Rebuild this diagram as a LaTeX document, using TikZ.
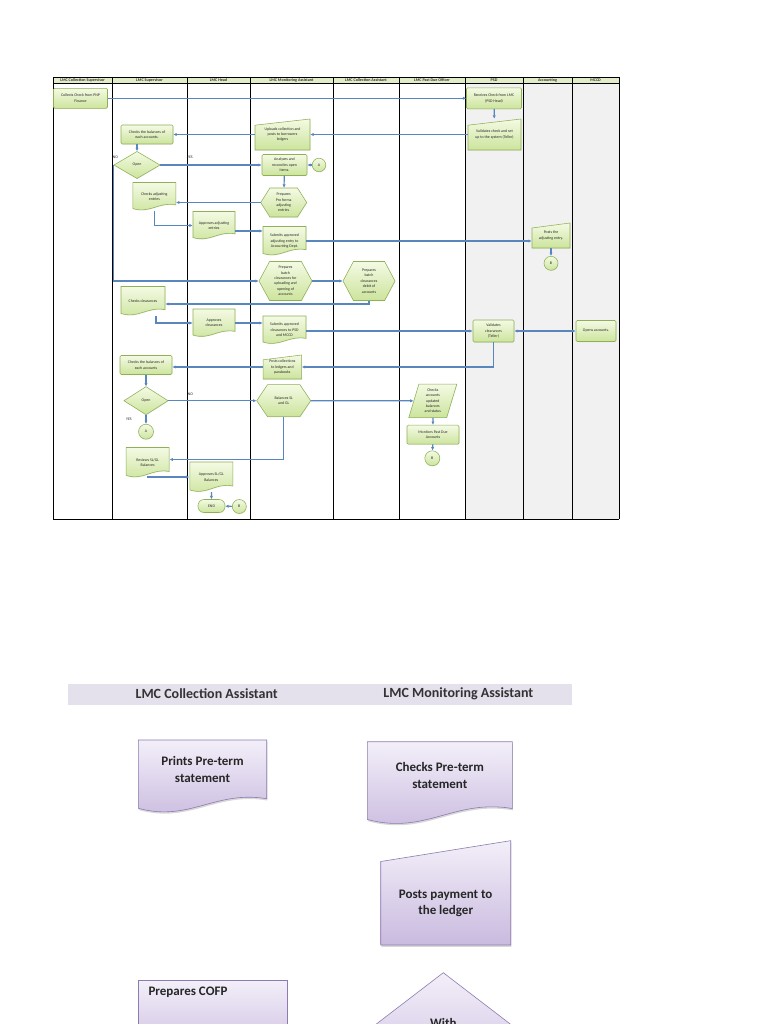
\documentclass[tikz,border=0pt]{standalone}
\usepackage{fontspec}
\setmainfont{Carlito}
\usetikzlibrary{arrows.meta,shadows}
\definecolor{gtop}{HTML}{F4FAE4}
\definecolor{gbot}{HTML}{CCE49C}
\definecolor{gbd}{HTML}{8FB055}
\definecolor{connc}{HTML}{5A86C0}
\definecolor{hdrfill}{HTML}{E3ECC8}
\definecolor{lanegray}{HTML}{F1F1F1}
\definecolor{ptop}{HTML}{F3EFF9}
\definecolor{pbot}{HTML}{C9BADF}
\definecolor{pbd}{HTML}{8E7CB0}
\definecolor{pband}{HTML}{E4E0EC}
\tikzset{
  conn/.style={draw=connc, line width=1.2pt, -{Latex[length=3.4pt,width=3.2pt]}},
  connb/.style={draw=connc, line width=1.2pt, {Latex[length=3.4pt,width=3.2pt]}-{Latex[length=3.4pt,width=3.2pt]}},
  gshape/.style={top color=gtop, bottom color=gbot, draw=gbd, line width=0.55pt,
    drop shadow={opacity=0.15, shadow xshift=0.4pt, shadow yshift=-0.6pt}},
  gtext/.style={font=\fontsize{3.9}{5.4}\selectfont, align=center, inner sep=0pt, text=black!85},
  lane/.style={draw=black, line width=0.7pt},
  hdr/.style={font=\fontsize{4.1}{5}\selectfont\bfseries, inner sep=0pt, text=black!80},
  lbl/.style={font=\fontsize{3.9}{5}\selectfont, inner sep=0pt, text=black!85},
  pshape/.style={top color=ptop, bottom color=pbot, draw=pbd, line width=0.6pt,
    drop shadow={opacity=0.3, shadow xshift=0.6pt, shadow yshift=-1.8pt}},
  ptext/.style={font=\fontsize{13}{16.5}\selectfont\bfseries, align=center, inner sep=0pt, text=black!85},
}
% name, cx, cy, w, h, shape style, text style, text
\newcommand{\ShRect}[8]{%
  \path[#6, rounded corners=1.2pt] ({#2-#4/2},{#3-#5/2}) rectangle ({#2+#4/2},{#3+#5/2});
  \node[#7, minimum width=#4, minimum height=#5] (#1) at (#2,#3) {#8};}
\newcommand{\ShDoc}[8]{%
  \path[#6] ({#2-#4/2},{#3-#5/2}) -- ({#2+#4/2},{#3-#5/2}) -- ({#2+#4/2},{#3+0.3*#5})
    .. controls ({#2+0.1*#4},{#3+0.18*#5}) and ({#2-0.1*#4},{#3+0.62*#5}) .. ({#2-#4/2},{#3+0.43*#5}) -- cycle;
  \node[#7, minimum width=#4, minimum height=#5] (#1) at (#2,#3) {#8};}
\newcommand{\ShManual}[8]{%
  \path[#6] ({#2-#4/2},{#3-#5/2+0.2*#5}) -- ({#2+#4/2},{#3-#5/2}) -- ({#2+#4/2},{#3+#5/2}) -- ({#2-#4/2},{#3+#5/2}) -- cycle;
  \node[#7, minimum width=#4, minimum height=#5] (#1) at (#2,#3) {#8};}
\newcommand{\ShHex}[8]{%
  \path[#6] ({#2-#4/2},#3) -- ({#2-0.3*#4},{#3-#5/2}) -- ({#2+0.3*#4},{#3-#5/2}) -- ({#2+#4/2},#3) -- ({#2+0.3*#4},{#3+#5/2}) -- ({#2-0.3*#4},{#3+#5/2}) -- cycle;
  \node[#7, minimum width=#4, minimum height=#5] (#1) at (#2,#3) {#8};}
\newcommand{\ShDiam}[8]{%
  \path[#6] ({#2-#4/2},#3) -- (#2,{#3-#5/2}) -- ({#2+#4/2},#3) -- (#2,{#3+#5/2}) -- cycle;
  \node[#7, minimum width=#4, minimum height=#5] (#1) at (#2,#3) {#8};}
\newcommand{\ShPara}[8]{%
  \path[#6] ({#2-#4/2+0.21*#4},{#3-#5/2}) -- ({#2+#4/2},{#3-#5/2}) -- ({#2+#4/2-0.21*#4},{#3+#5/2}) -- ({#2-#4/2},{#3+#5/2}) -- cycle;
  \node[#7, minimum width=#4, minimum height=#5] (#1) at (#2,#3) {#8};}
\newcommand{\ShTerm}[8]{%
  \path[#6, rounded corners=6pt] ({#2-#4/2},{#3-#5/2}) rectangle ({#2+#4/2},{#3+#5/2});
  \node[#7, minimum width=#4, minimum height=#5] (#1) at (#2,#3) {#8};}
\newcommand{\ShCirc}[5]{%
  \node[circle, gshape, #5, minimum size=#4] (#1) at (#2,#3) {};}

\begin{document}
\begin{tikzpicture}[x=1pt, y=-1pt]
\useasboundingbox (0,0) rectangle (768,1024);
\fill[white] (0,0) rectangle (768,1024);
\clip (0,0) rectangle (768,1024);

% ---------------- swimlanes ----------------
\fill[lanegray] (465,83) rectangle (619,519);
\fill[hdrfill] (53,77) rectangle (619,83);
\foreach \xx in {53,112,187,250,333,399,465,523,572,619}
  \draw[lane] (\xx,77) -- (\xx,519);
\draw[lane] (53,77) -- (619,77);
\draw[lane] (53,83) -- (619,83);
\draw[lane] (53,519) -- (619,519);
\node[hdr] (h1) at (82.5,80) {LMC Collection Supervisor};
\node[hdr] (h2) at (149.5,80) {LMC Supervisor};
\node[hdr] (h3) at (218.5,80) {LMC Head};
\node[hdr] (h4) at (291.5,80) {LMC Monitoring Assistant};
\node[hdr] (h5) at (366,80) {LMC Collection Assistant};
\node[hdr] (h6) at (432,80) {LMC Past Due Officer};
\node[hdr] (h7) at (494,80) {PSD};
\node[hdr] (h8) at (547.5,80) {Accounting};
\node[hdr] (h9) at (595.5,80) {MCCD};

% ---------------- shapes ----------------
\ShRect{n1}{80.5}{98.3}{54}{20}{gshape}{gtext}{Collects Check from PNP\\Finance}
\ShRect{n2}{494}{98.3}{55}{21}{gshape}{gtext}{Receives Check from LMC\\(PSD Head)}
\ShManual{n3}{494.5}{134.5}{53}{31}{gshape}{gtext}{Validates check and set\\up to the system (Teller)}
\ShManual{n4}{282.5}{134.5}{55}{31}{gshape}{gtext}{Uploads collection and\\posts to borrowers\\ledgers}
\ShRect{n5}{147}{134.5}{52}{19}{gshape}{gtext}{Checks the balances of\\each accounts.}
\ShDiam{n6}{137}{165}{46}{27}{gshape}{gtext}{Open}
\ShRect{n7}{284.5}{165}{45}{21}{gshape}{gtext}{Analyzes and\\reconciles open\\items.}
\ShCirc{n8}{319}{165}{13.5}{gtext}
\node[gtext] (n8t) at (n8) {A};
\ShHex{n9}{283.7}{202.5}{46}{29}{gshape}{gtext}{Prepares\\Pro forma\\adjusting\\entries}
\ShDoc{n10}{154.3}{196.5}{43}{28}{gshape}{gtext}{Checks adjusting\\entries}
\ShDoc{n11}{214}{225.5}{42}{28}{gshape}{gtext}{Approves adjusting\\entries}
\ShDoc{n12}{284.5}{241}{43}{29}{gshape}{gtext}{Submits approved\\adjusting entry to\\Accounting Dept.}
\ShManual{n13}{551}{235.5}{38}{25}{gshape}{gtext}{Posts the\\adjusting entry.}
\ShCirc{n14}{551}{263.3}{14}{gtext}
\node[gtext] (n14t) at (n14) {B};
\ShHex{n15}{285.5}{281}{53}{39}{gshape}{gtext}{Prepares\\batch\\clearances for\\uploading and\\opening of\\accounts}
\ShHex{n16}{369}{281}{52}{39}{gshape}{gtext}{Prepares\\batch\\clearances\\debit of\\accounts}
\ShDoc{n17}{143}{301}{44}{29}{gshape}{gtext}{Checks clearances}
\ShDoc{n18}{214}{323}{42}{28}{gshape}{gtext}{Approves\\clearances}
\ShDoc{n19}{284.5}{330}{43}{28}{gshape}{gtext}{Submits approved\\clearances to PSD\\and MCCD}
\ShRect{n20}{493.5}{331}{41}{22}{gshape}{gtext}{Validates\\clearances\\(Teller)}
\ShRect{n21}{596}{331}{40}{21}{gshape}{gtext}{Opens accounts.}
\ShManual{n22}{282.3}{367}{38.5}{24}{gshape}{gtext}{Posts collections\\to ledgers and\\passbooks}
\ShRect{n23}{146}{365}{52}{19}{gshape}{gtext}{Checks the balances of\\each accounts}
\ShDiam{n24}{146}{400.7}{44}{28}{gshape}{gtext}{Open}
\ShHex{n25}{283.7}{400.7}{54}{32}{gshape}{gtext}{Balances SL\\and GL}
\ShCirc{n26}{146}{431.7}{15}{gtext}
\node[gtext] (n26t) at (n26) {A};
\ShPara{n27}{432.8}{400.8}{48}{33.5}{gshape}{gtext}{Checks\\accounts\\updated\\balances\\and status}
\ShRect{n28}{433}{434.7}{52}{19}{gshape}{gtext}{Monitors Past Due\\Accounts}
\ShCirc{n29}{432.3}{458.3}{15}{gtext}
\node[gtext] (n29t) at (n29) {B};
\ShDoc{n30}{147.7}{462.5}{43}{30}{gshape}{gtext}{Reviews SL/GL\\Balances}
\ShDoc{n31}{211.3}{477}{43}{30}{gshape}{gtext}{Approves SL/GL\\Balances}
\ShTerm{n32}{211.5}{506}{27}{13}{gshape}{gtext}{END}
\ShCirc{n33}{239.3}{506.5}{14}{gtext}
\node[gtext] (n33t) at (n33) {B};

% labels
\node[lbl] (lno1) at (115.5,157) {NO};
\node[lbl] (lyes1) at (190,157) {YES};
\node[lbl] (lno2) at (190.5,394) {NO};
\node[lbl] (lyes2) at (129,419) {YES};

% ---------------- connectors ----------------
\draw[conn] (n1) -- (n2);
\draw[conn] (n2) -- (n3);
\draw[conn] (n3) -- (n4);
\draw[conn] (n4) -- (n5);
\draw[conn] (n6.north |- n5.south) -- (n6.north);
\draw[conn] (n6.east) -- (n7.west);
\draw[conn] (n8) -- (n7);
\draw[conn] (n7) -- (n9);
\draw[conn] (n9.west) -- (n9.west -| n10.east);
\draw[conn] (n10.south) |- (n11.west);
\draw[conn] ([yshift=-5.5pt]n11.east) -- ([yshift=-5.5pt]n11.east -| n12.west);
\draw[conn] (n12.east) -- (n12.east -| n13.west);
\draw[conn] (n13) -- (n14);
\draw[conn] (n6.west) |- (n15.west);
\draw[conn] (n15) -- (n16);
\draw[conn] (n16.south) |- ([yshift=-3pt]n17.east);
\draw[conn] ([xshift=13pt]n17.south) |- (n18.west);
\draw[conn] (n18.east) -- (n18.east -| n19.west);
\draw[conn] (n20.west -| n19.east) -- (n20.west);
\draw[connb] (n21.west) -- (n20.east);
\draw[conn] (n20.south) |- (n22.east);
\draw[conn] (n22.west) -- (n22.west -| n23.east);
\draw[conn] (n23) -- (n24);
\draw[conn] (n24.east) -- (n25.west);
\draw[conn] (n24.south) -- (n26.north);
\draw[conn] (n25.east) -- ([xshift=5pt]n27.west);
\draw[conn] (n27) -- (n28);
\draw[conn] (n28) -- (n29);
\draw[conn] (n25.south) |- ([yshift=3pt]n30.east);
\draw[conn] (n30.south) |- (n31.west);
\draw[conn] (n31) -- (n32);
\draw[conn] (n33) -- (n32);

% ---------------- lower part ----------------
\fill[pband] (68.3,684) rectangle (571.7,705);
\node[font=\fontsize{14}{16}\selectfont\bfseries, text=black!80, inner sep=0pt] (b0a) at (206.7,694) {LMC Collection Assistant};
\node[font=\fontsize{14}{16}\selectfont\bfseries, text=black!80, inner sep=0pt] (b0b) at (458.3,694) {LMC Monitoring Assistant};

\ShDoc{b1}{202.5}{776.7}{128.4}{73.5}{pshape}{ptext, yshift=7pt}{Prints Pre-term\\statement}
\ShDoc{b2}{439.8}{783.5}{145}{83.5}{pshape}{ptext, yshift=8pt}{Checks Pre-term\\statement}
\ShManual{b3}{445.7}{892.8}{130}{104.3}{pshape}{ptext, yshift=-10.5pt}{Posts payment to\\the ledger}
\path[pshape] (138.3,980) rectangle (287.3,1060);
\node[ptext, anchor=west] (b4) at (148.3,992.7) {Prepares COFP};
\path[pshape] (443.3,972.7) -- (522,1033) -- (443.3,1093) -- (364.6,1033) -- cycle;
\node[ptext] (b5) at (443.3,1023) {With};
\end{tikzpicture}
\end{document}
